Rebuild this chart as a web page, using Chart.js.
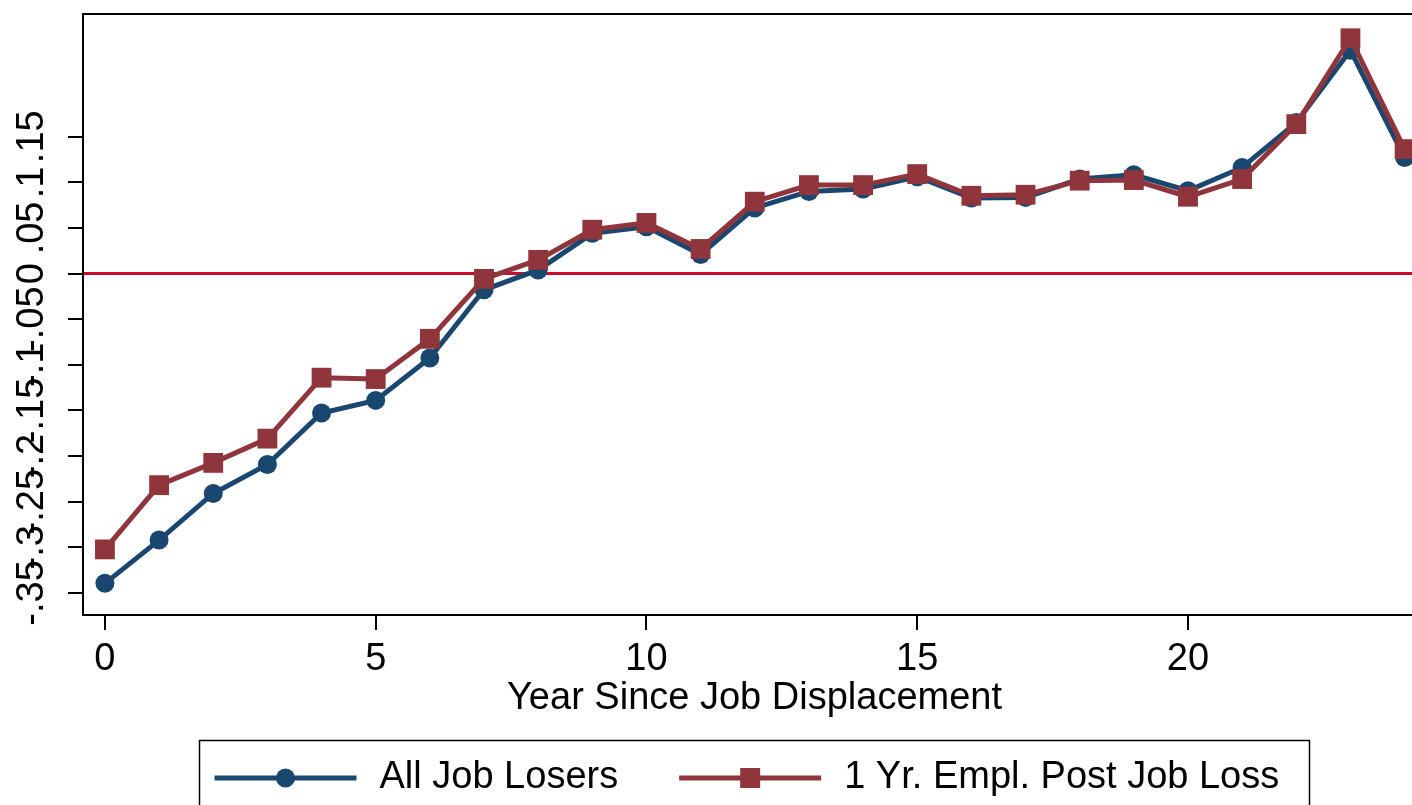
<!DOCTYPE html>
<html><head><meta charset="utf-8">
<script src="https://cdn.jsdelivr.net/npm/chart.js@4.4.1/dist/chart.umd.min.js"></script>
<style>
html,body{margin:0;padding:0;overflow:hidden;background:#fff;width:1412px;height:805px}
#wrap{width:1440px;height:805px}
</style></head><body>
<div id="wrap"><canvas id="c" width="1440" height="805"></canvas></div>
<script>
// ---- data ----
const years = [0,1,2,3,4,5,6,7,8,9,10,11,12,13,14,15,16,17,18,19,20,21,22,23,24];
const allJobLosers = [-0.3395,-0.2921,-0.2410,-0.2093,-0.1528,-0.1390,-0.0926,-0.0178,0.0040,0.0441,0.0514,0.0208,0.0719,0.0900,0.0927,0.1061,0.0828,0.0835,0.1036,0.1083,0.0908,0.1163,0.1655,0.2447,0.1272];
const oneYrEmpl    = [-0.3023,-0.2319,-0.2075,-0.1809,-0.1141,-0.1156,-0.0715,-0.0058,0.0150,0.0481,0.0555,0.0270,0.0788,0.0970,0.0970,0.1090,0.0853,0.0864,0.1018,0.1025,0.0842,0.1036,0.1638,0.2579,0.1364];
const seriesLabels = ['All Job Losers','1 Yr. Empl. Post Job Loss'];
const xTickValues = [0,5,10,15,20];
const yTickValues = [-0.35,-0.3,-0.25,-0.2,-0.15,-0.1,-0.05,0,0.05,0.1,0.15];
const yTickLabels = ['-.35','-.3','-.25','-.2','-.15','-.1','-.05','0','.05','.1','.15'];
const xTitle = 'Year Since Job Displacement';
const xRange = [-0.405, 24.395];
const yRange = [-0.3742, 0.2845];
const refLineValue = 0;

// ---- style ----
const FONT = '"Liberation Sans", Arial, Helvetica, sans-serif';
const FS = 38;
const NAVY = '#1a476f';
const MAROON = '#90353b';
const REDLINE = '#c80c30';

const frameAndLabels = {
  id: 'frameAndLabels',
  afterDraw(chart) {
    const ctx = chart.ctx, ca = chart.chartArea, ys = chart.scales.y;
    ctx.save();
    // plot frame
    ctx.strokeStyle = '#000'; ctx.lineWidth = 2;
    ctx.strokeRect(ca.left, ca.top, ca.right - ca.left, ca.bottom - ca.top);
    // rotated y tick labels
    ctx.fillStyle = '#000';
    ctx.font = FS + 'px ' + FONT;
    ctx.textAlign = 'center'; ctx.textBaseline = 'alphabetic';
    ys.ticks.forEach((t, i) => {
      const py = ys.getPixelForValue(t.value);
      ctx.save();
      ctx.translate(43, py);
      ctx.rotate(-Math.PI / 2);
      ctx.fillText(yTickLabels[i], 0, 0);
      ctx.restore();
    });
    // legend
    const cx = (ca.left + ca.right) / 2;
    const boxW = 1110, boxL = cx - boxW / 2, boxT = 740.5;
    ctx.lineWidth = 1.5; ctx.strokeStyle = '#000';
    ctx.strokeRect(boxL, boxT, boxW, 120);
    const items = chart.data.datasets.filter(d => d.label);
    let x = boxL + 15; const y = 778;
    items.forEach(d => {
      const symW = 142;
      ctx.strokeStyle = d.borderColor; ctx.lineWidth = 5;
      ctx.beginPath(); ctx.moveTo(x, y); ctx.lineTo(x + symW, y); ctx.stroke();
      ctx.fillStyle = d.pointBackgroundColor;
      const mx = x + symW / 2;
      if (d.pointStyle === 'rect') {
        ctx.fillRect(mx - 10, y - 10, 20, 20);
      } else {
        ctx.beginPath(); ctx.arc(mx, y, 9.5, 0, Math.PI * 2); ctx.fill();
      }
      ctx.fillStyle = '#000'; ctx.textAlign = 'left'; ctx.textBaseline = 'middle';
      const tx = x + symW + 23;
      ctx.fillText(d.label, tx, y);
      x = tx + ctx.measureText(d.label).width + 61;
    });
    ctx.restore();
  }
};

new Chart(document.getElementById('c'), {
  type: 'line',
  data: {
    labels: years,
    datasets: [
      {
        label: seriesLabels[0],
        data: years.map((yr, i) => ({x: yr, y: allJobLosers[i]})),
        borderColor: NAVY, backgroundColor: NAVY,
        pointBackgroundColor: NAVY, pointBorderColor: NAVY,
        borderWidth: 5, pointRadius: 9.5, pointBorderWidth: 0,
        pointStyle: 'circle', order: 2, tension: 0, clip: false
      },
      {
        label: seriesLabels[1],
        data: years.map((yr, i) => ({x: yr, y: oneYrEmpl[i]})),
        borderColor: MAROON, backgroundColor: MAROON,
        pointBackgroundColor: MAROON, pointBorderColor: MAROON,
        borderWidth: 5, pointRadius: 14, pointBorderWidth: 0,
        pointStyle: 'rect', order: 1, tension: 0, clip: false
      },
      {
        label: '',
        data: xRange.map(v => ({x: v, y: refLineValue})),
        borderColor: REDLINE, borderWidth: 3, pointRadius: 0, order: 3
      }
    ]
  },
  options: {
    responsive: false,
    devicePixelRatio: 1,
    animation: false,
    layout: {padding: {left: 0, top: 13, right: 13, bottom: 84}},
    plugins: {legend: {display: false}, tooltip: {enabled: false}},
    scales: {
      x: {
        type: 'linear', min: xRange[0], max: xRange[1],
        afterBuildTicks: s => { s.ticks = xTickValues.map(v => ({value: v})); },
        afterFit: s => { s.height = 106; },
        grid: {display: true, drawOnChartArea: false, drawTicks: true, tickLength: 15, color: '#000', lineWidth: 2},
        border: {display: false},
        ticks: {color: '#000', font: {family: FONT, size: FS, lineHeight: 1}, padding: 11, maxRotation: 0, callback: v => String(v)},
        title: {display: true, text: xTitle, color: '#000', font: {family: FONT, size: FS, lineHeight: 1.2}, padding: {top: 0, bottom: 0}}
      },
      y: {
        type: 'linear', min: yRange[0], max: yRange[1],
        afterBuildTicks: s => { s.ticks = yTickValues.map(v => ({value: v})); },
        afterFit: s => { s.width = 83; },
        grid: {display: true, drawOnChartArea: false, drawTicks: true, tickLength: 15, color: '#000', lineWidth: 2},
        border: {display: false},
        ticks: {display: false}
      }
    }
  },
  plugins: [frameAndLabels]
});
</script>
</body></html>
